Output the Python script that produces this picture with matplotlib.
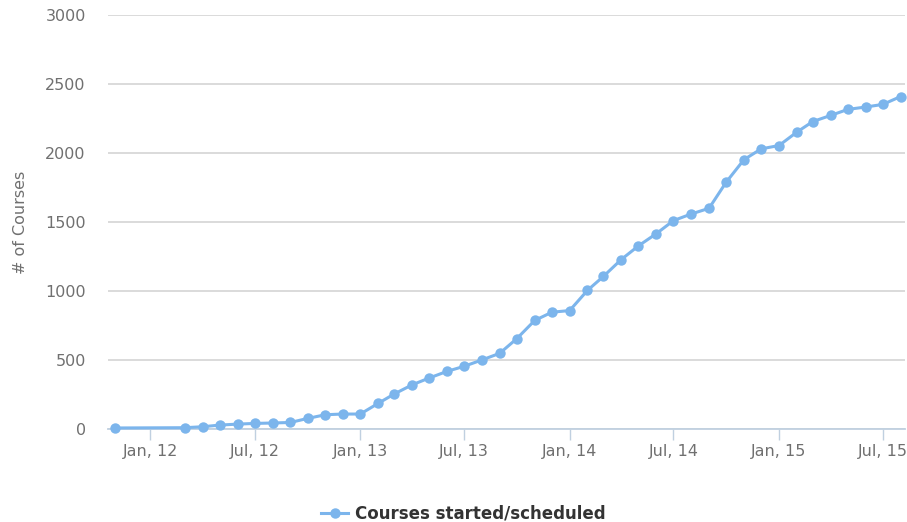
import matplotlib
matplotlib.use("Agg")
import matplotlib.pyplot as plt
import numpy as np
import datetime as dt

# monthly data points (first of month)
months = ["2011-11",
          "2012-03", "2012-04", "2012-05", "2012-06", "2012-07", "2012-08",
          "2012-09", "2012-10", "2012-11", "2012-12",
          "2013-01", "2013-02", "2013-03", "2013-04", "2013-05", "2013-06",
          "2013-07", "2013-08", "2013-09", "2013-10", "2013-11", "2013-12",
          "2014-01", "2014-02", "2014-03", "2014-04", "2014-05", "2014-06",
          "2014-07", "2014-08", "2014-09", "2014-10", "2014-11", "2014-12",
          "2015-01", "2015-02", "2015-03", "2015-04", "2015-05", "2015-06",
          "2015-07", "2015-08"]
courses = [8,
           10, 17, 29, 36, 41, 44,
           48, 77, 104, 109,
           109, 186, 254, 320, 370, 418,
           455, 501, 549, 656, 787, 847,
           859, 1005, 1107, 1229, 1328, 1416,
           1511, 1559, 1600, 1790, 1953, 2031,
           2055, 2152, 2229, 2273, 2317, 2334,
           2353, 2410]
series_name = "Courses started/scheduled"
y_label = "# of Courses"

dates = [dt.datetime.strptime(m, "%Y-%m") for m in months]

line_color = "#7cb5ec"
grid_color = "#d8d8d8"
axis_color = "#c0d0e0"
text_color = "#707070"

plt.rcParams['font.family'] = ['DejaVu Sans']

fig = plt.figure(figsize=(9.07, 5.22), dpi=100)
ax = fig.add_axes([0.119, 0.178, 0.879, 0.793])

ax.plot(dates, courses, color=line_color, linewidth=2.2, marker='o',
        markersize=7.5, markeredgewidth=0, label=series_name, clip_on=False, zorder=3)

ax.set_ylim(0, 3000)
ax.set_yticks(np.arange(0, 3001, 500))
ax.set_xlim(dt.datetime(2011, 10, 19), dt.datetime(2015, 8, 9))

ticks = [dt.datetime(y, m, 1) for y in range(2012, 2016) for m in (1, 7)]
ax.set_xticks(ticks)
ax.set_xticklabels([d.strftime("%b, %y") for d in ticks])

ax.grid(axis='y', color=grid_color, linewidth=1.3)
ax.set_axisbelow(True)
for s in ["top", "right", "left"]:
    ax.spines[s].set_visible(False)
ax.spines["bottom"].set_color(axis_color)
ax.spines["bottom"].set_linewidth(1.3)

ax.tick_params(axis='y', length=0, pad=16, labelsize=11.5, labelcolor=text_color)
ax.tick_params(axis='x', length=8, width=1, color=axis_color, pad=3,
               labelsize=11.5, labelcolor=text_color)

ax.set_ylabel(y_label, color=text_color, fontsize=11.5, labelpad=12)

leg = fig.legend(loc='lower center', bbox_to_anchor=(0.511, -0.03), frameon=False,
                 prop={'weight': 'bold', 'size': 12}, handlelength=1.6,
                 handletextpad=0.4)
for t in leg.get_texts():
    t.set_color("#333333")

fig.savefig("out.png", dpi=100)
